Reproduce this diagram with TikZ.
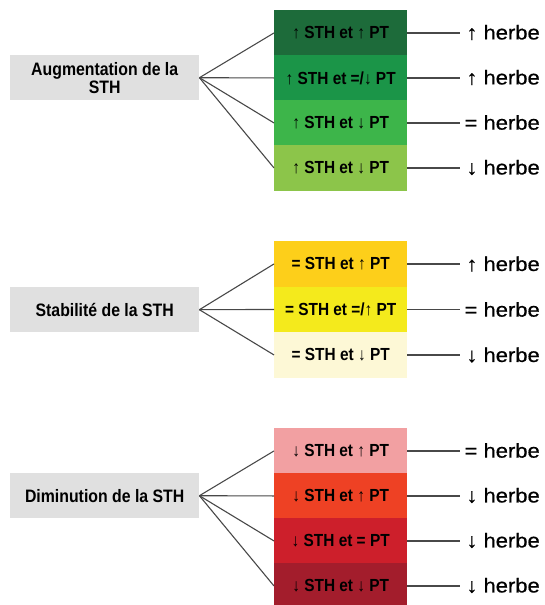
\documentclass[tikz,border=0pt]{standalone}
\usepackage{fontspec}
\setmainfont{Liberation Sans}
\newfontfamily\boxfont[FakeStretch=0.88]{Liberation Sans}
\newfontfamily\herbefont[FakeStretch=1.1, FakeBold=0.5]{Liberation Sans}
\definecolor{gA}{HTML}{1D6B3A}
\definecolor{gB}{HTML}{1B9548}
\definecolor{gC}{HTML}{3DB54A}
\definecolor{gD}{HTML}{8CC54A}
\definecolor{yA}{HTML}{FDCF1A}
\definecolor{yB}{HTML}{F4EA1C}
\definecolor{yC}{HTML}{FDF8D6}
\definecolor{rA}{HTML}{F2A0A2}
\definecolor{rB}{HTML}{EE4124}
\definecolor{rC}{HTML}{CD1F2B}
\definecolor{rD}{HTML}{A31D2C}
\definecolor{panel}{HTML}{E0E0E0}
\definecolor{wire}{HTML}{484848}
\tikzset{
  cause/.style={fill=panel, draw=none, minimum width=189pt, minimum height=45pt,
    inner sep=0pt, anchor=north west, align=center,
    font=\boxfont\bfseries\fontsize{18}{18}\selectfont},
  cell/.style={fill=#1, draw=none, minimum width=133pt, minimum height=45.5pt,
    inner sep=0pt, anchor=north west,
    font=\boxfont\bfseries\fontsize{17.5}{18}\selectfont},
  effect/.style={anchor=east, inner sep=0pt,
    font=\herbefont\fontsize{20}{22}\selectfont},
  link/.style={draw=wire, line width=1.1pt},
}
\begin{document}
\begin{tikzpicture}[x=1pt, y=-1pt]
\useasboundingbox (0,0) rectangle (544,605);

% ---- increase ----
\node[cause] (inc) at (10,55) {Augmentation de la\\STH};
\node[cell=gA] (i1) at (274,10)  {↑ STH et ↑ PT};
\node[cell=gB] (i2) at (274,55)  {↑ STH et =/↓ PT};
\node[cell=gC] (i3) at (274,100) {↑ STH et ↓ PT};
\node[cell=gD] (i4) at (274,145) {↑ STH et ↓ PT};
\node[effect] (ie1) at (540,32.5)  {↑ herbe};
\node[effect] (ie2) at (540,77.5)  {↑ herbe};
\node[effect] (ie3) at (540,122.5) {= herbe};
\node[effect] (ie4) at (540,167.5) {↓ herbe};
\foreach \k in {1,...,4} {
  \draw[link] (inc.east) -- (i\k.west);
  \draw[link] (i\k.east) -- ++(53,0) coordinate (ic\k);
}

% ---- stability ----
\node[cause] (sta) at (10,287) {Stabilité de la STH};
\node[cell=yA] (s1) at (274,241)   {= STH et ↑ PT};
\node[cell=yB] (s2) at (274,286.5) {= STH et =/↑ PT};
\node[cell=yC] (s3) at (274,332)   {= STH et ↓ PT};
\node[effect] (se1) at (540,264)   {↑ herbe};
\node[effect] (se2) at (540,309.5) {= herbe};
\node[effect] (se3) at (540,355)   {↓ herbe};
\foreach \k in {1,...,3} {
  \draw[link] (sta.east) -- (s\k.west);
  \draw[link] (s\k.east) -- ++(53,0) coordinate (sc\k);
}

% ---- decrease ----
\node[cause] (dec) at (10,473) {Diminution de la STH};
\node[cell=rA] (d1) at (274,428) {↓ STH et ↑ PT};
\node[cell=rB] (d2) at (274,473) {↓ STH et ↑ PT};
\node[cell=rC] (d3) at (274,518) {↓ STH et = PT};
\node[cell=rD] (d4) at (274,563) {↓ STH et ↓ PT};
\node[effect] (de1) at (540,450.5) {= herbe};
\node[effect] (de2) at (540,495.5) {↓ herbe};
\node[effect] (de3) at (540,540.5) {↓ herbe};
\node[effect] (de4) at (540,585.5) {↓ herbe};
\foreach \k in {1,...,4} {
  \draw[link] (dec.east) -- (d\k.west);
  \draw[link] (d\k.east) -- ++(53,0) coordinate (dc\k);
}
\end{tikzpicture}
\end{document}
